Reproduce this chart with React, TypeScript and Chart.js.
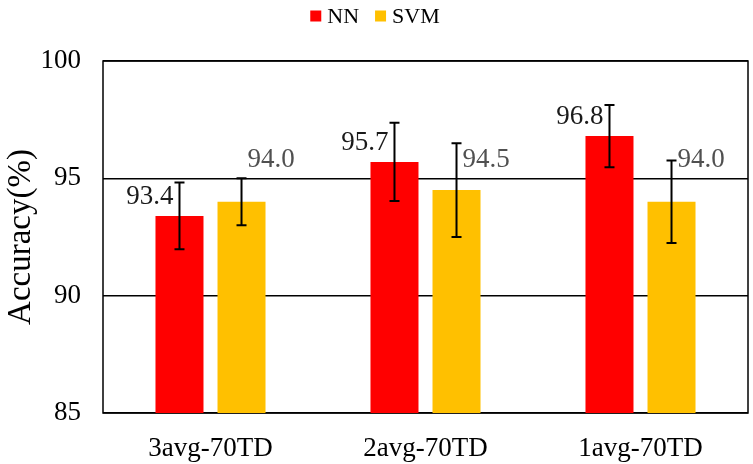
import { useEffect, useRef } from 'react';
import Chart from 'chart.js/auto';

// Accuracy of NN vs SVM for three averaging settings, with error bars.
const CATEGORIES = ['3avg-70TD', '2avg-70TD', '1avg-70TD'];
const NN_ACC = [93.4, 95.7, 96.8];
const SVM_ACC = [94.0, 94.5, 94.0];
const NN_ERR = [1.42, 1.67, 1.33];
const SVM_ERR = [1.0, 2.0, 1.76];
const Y_TICKS = [85, 90, 95, 100];

const RED = '#ff0000';
const YELLOW = '#ffc000';
const FONT = '"Times New Roman", "Liberation Serif", serif';

const errorBars = {
  id: 'errorBars',
  beforeDatasetsDraw(chart: any) {
    const { ctx, chartArea } = chart;
    ctx.save();
    ctx.strokeStyle = '#000';
    ctx.lineWidth = 1.5;
    ctx.strokeRect(chartArea.left, chartArea.top, chartArea.right - chartArea.left, chartArea.bottom - chartArea.top);
    ctx.restore();
  },
  afterDatasetsDraw(chart: any) {
    const { ctx } = chart;
    const y = chart.scales.y;
    const errs = [NN_ERR, SVM_ERR];
    ctx.save();
    chart.data.datasets.forEach((ds: any, di: number) => {
      const meta = chart.getDatasetMeta(di);
      meta.data.forEach((bar: any, i: number) => {
        const v = ds.data[i];
        const e = errs[di][i];
        const x = bar.x;
        const top = y.getPixelForValue(v + e);
        const bot = y.getPixelForValue(v - e);
        ctx.strokeStyle = '#000';
        ctx.lineWidth = 2;
        ctx.beginPath();
        ctx.moveTo(x, top);
        ctx.lineTo(x, bot);
        ctx.moveTo(x - 5, top);
        ctx.lineTo(x + 5, top);
        ctx.moveTo(x - 5, bot);
        ctx.lineTo(x + 5, bot);
        ctx.stroke();

        ctx.font = `27px ${FONT}`;
        ctx.textBaseline = 'middle';
        if (di === 0) {
          ctx.fillStyle = '#1a1a1a';
          ctx.textAlign = 'right';
          ctx.fillText(v.toFixed(1), x - 6, y.getPixelForValue(v + 0.8));
        } else {
          ctx.fillStyle = '#505050';
          ctx.textAlign = 'left';
          ctx.fillText(v.toFixed(1), x + 6, y.getPixelForValue(95.8));
        }
      });
    });
    ctx.restore();
  },
  afterDraw(chart: any) {
    // legend drawn by hand so the box/text gaps match
    const { ctx } = chart;
    ctx.save();
    ctx.font = `22px ${FONT}`;
    ctx.textBaseline = 'middle';
    ctx.textAlign = 'left';
    const items = chart.data.datasets.map((d: any) => ({ text: d.label, color: d.backgroundColor, w: ctx.measureText(d.label).width }));
    const total = items.reduce((s: number, it: any) => s + 11 + 6 + it.w, 0) + 16 * (items.length - 1);
    let x = 375 - total / 2;
    const cy = 16;
    items.forEach((it: any) => {
      ctx.fillStyle = it.color;
      ctx.fillRect(x, cy - 5.5, 11, 11);
      ctx.fillStyle = '#000';
      ctx.fillText(it.text, x + 17, cy + 1);
      x += 17 + it.w + 16;
    });
    ctx.restore();
  },
};

export default function App() {
  const canvasRef = useRef<HTMLCanvasElement | null>(null);

  useEffect(() => {
    document.body.style.margin = '0';
    const ctx = canvasRef.current;
    if (!ctx) return;
    const chart = new Chart(ctx, {
      type: 'bar',
      data: {
        labels: CATEGORIES,
        datasets: [
          { label: 'NN', data: NN_ACC, backgroundColor: RED, categoryPercentage: 0.577, barPercentage: 0.774 },
          { label: 'SVM', data: SVM_ACC, backgroundColor: YELLOW, categoryPercentage: 0.577, barPercentage: 0.774 },
        ],
      },
      options: {
        animation: false,
        responsive: false,
        events: [],
        layout: { padding: { left: 0, right: 5, top: 61, bottom: 0 } },
        scales: {
          x: {
            grid: { display: false, drawTicks: false },
            border: { display: false },
            ticks: { color: '#000', font: { family: FONT, size: 27 }, padding: 20 },
            afterFit: (s: any) => { s.height = 51; },
          },
          y: {
            min: 85,
            max: 100,
            afterBuildTicks: (s: any) => { s.ticks = Y_TICKS.map((value) => ({ value })); },
            grid: { color: '#000', lineWidth: 1.5, drawTicks: false },
            border: { display: false },
            ticks: { color: '#000', font: { family: FONT, size: 27 }, padding: 22 },
            title: { display: true, text: 'Accuracy(%)', color: '#000', font: { family: FONT, size: 33 }, padding: { top: 2, bottom: 0 } },
            afterFit: (s: any) => { s.width = 103; },
          },
        },
        plugins: {
          tooltip: { enabled: false },
          legend: { display: false },
        },
      },
      plugins: [errorBars],
    });
    return () => chart.destroy();
  }, []);

  return <canvas ref={canvasRef} width={753} height={464} style={{ display: 'block' }} />;
}
